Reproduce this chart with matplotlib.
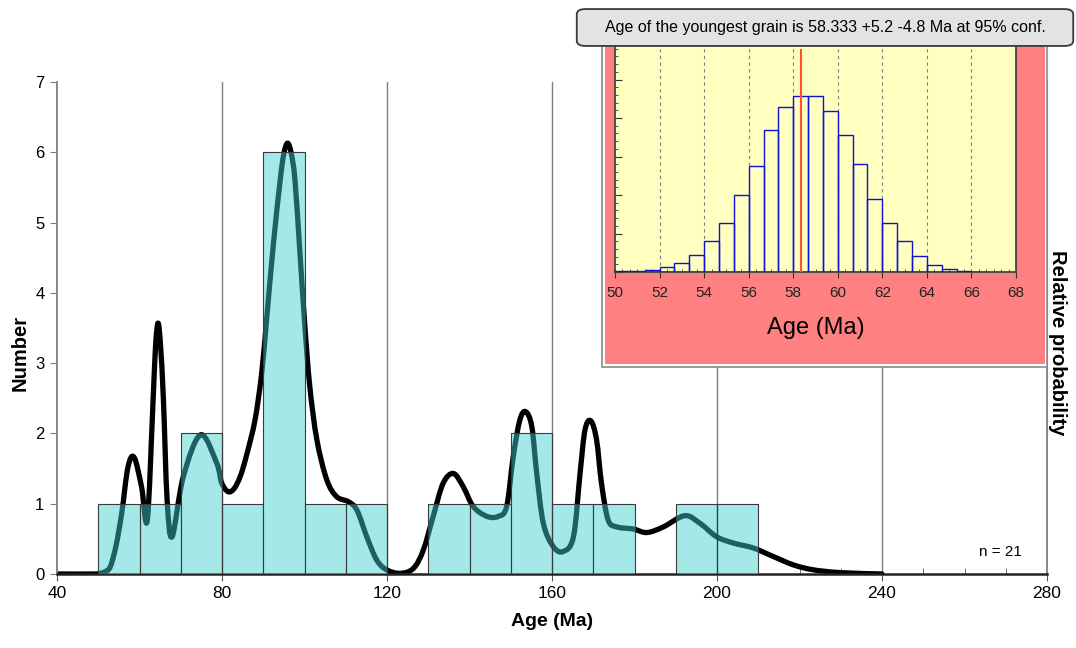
import numpy as np
import matplotlib
matplotlib.use("Agg")
import matplotlib.pyplot as plt
from matplotlib.patches import Rectangle, FancyBboxPatch, PathPatch
from matplotlib.path import Path

plt.rcParams['font.family'] = ['Liberation Sans', 'DejaVu Sans']

# ---------------- data ----------------
bin_left = [50, 60, 70, 80, 90, 100, 110, 120, 130, 140, 150, 160, 170, 180, 190, 200]
bin_counts = [1, 1, 2, 1, 6, 1, 1, 0, 1, 1, 2, 1, 1, 0, 1, 1]

curve_age = [40, 49, 50.5, 51.5, 52.9, 54.3, 55.7, 57.2, 58.7, 60.5, 61.9, 63.3, 63.9,
             64.5, 65.1, 65.8, 66.7, 67.9, 70.6, 74.8, 78.7, 79.9, 81.5, 83.0, 84.5,
             86.0, 88.0, 89.6, 90.8, 92.4, 94.1, 95.0, 95.9, 96.8, 97.7, 98.9, 100.1,
             101.3, 103.0, 105.4, 107.8, 110.6, 112.7, 115.1, 117.5, 119.9, 123.2,
             126.4, 128.8, 131.2, 133.6, 136.1, 138.5, 140.9, 144.2, 147.0, 149.0,
             150.6, 152.2, 153.6, 155.1, 156.3, 157.9, 160.3, 162.7, 165.2, 166.8,
             168.0, 169.4, 170.8, 172.0, 173.6, 175.7, 179.7, 183.0, 187.0, 192.2,
             195.9, 199.9, 204.0, 208.8, 213.6, 218.5, 223.3, 229.8, 240]
curve_prob = [0, 0, 0.01, 0.03, 0.10, 0.40, 0.87, 1.52, 1.66, 1.24, 0.77, 2.48, 3.25,
              3.57, 3.25, 2.48, 1.05, 0.53, 1.38, 1.98, 1.58, 1.30, 1.17, 1.22, 1.40,
              1.70, 2.19, 2.85, 3.61, 4.66, 5.60, 5.98, 6.13, 5.98, 5.60, 4.56, 3.52,
              2.66, 1.91, 1.34, 1.10, 1.03, 0.91, 0.53, 0.20, 0.06, 0.01,
              0.08, 0.34, 0.82, 1.29, 1.43, 1.24, 0.96, 0.82, 0.82, 0.96,
              1.67, 2.19, 2.31, 2.10, 1.43, 0.72, 0.39, 0.32, 0.53, 1.43,
              2.05, 2.18, 1.91, 1.29, 0.77, 0.67, 0.64, 0.59, 0.67, 0.83,
              0.72, 0.53, 0.44, 0.37, 0.25, 0.13, 0.06, 0.02, 0]

inset_start = 50
inset_width = 2 / 3
inset_counts = [3.5, 3.5, 6, 14, 24, 44, 81, 128, 200, 276, 370, 429, 457, 457, 417,
                355, 281, 190, 126, 81, 42, 18, 8, 3.5, 1]
youngest_age = 58.333
youngest_line_top = 577

x_ticks = [40, 80, 120, 160, 200, 240, 280]
y_ticks = [0, 1, 2, 3, 4, 5, 6, 7]
inset_ticks = [50, 52, 54, 56, 58, 60, 62, 64, 66, 68]

title_text = "Age of the youngest grain is 58.333 +5.2 -4.8 Ma at 95% conf."

# ---------------- figure ----------------
W, H = 1076, 648
fig = plt.figure(figsize=(W / 100, H / 100), dpi=100)


def fx(px):
    return px / W


def fy(py):
    return 1 - py / H


def smooth_path(xs, ys):
    """Catmull-Rom style cubic Bezier path through the read points."""
    p = np.column_stack([xs, ys]).astype(float)
    verts = [p[0]]
    codes = [Path.MOVETO]
    n = len(p)
    for i in range(n - 1):
        p0 = p[i - 1] if i > 0 else p[i]
        p1 = p[i]
        p2 = p[i + 1]
        p3 = p[i + 2] if i + 2 < n else p[i + 1]
        c1 = p1 + (p2 - p0) / 6.0
        c2 = p2 - (p3 - p1) / 6.0
        verts += [c1, c2, p2]
        codes += [Path.CURVE4] * 3
    return Path(verts, codes)


ax = fig.add_axes([fx(57), fy(574), fx(1047) - fx(57), fy(82) - fy(574)])
ax.set_xlim(40, 280)
ax.set_ylim(0, 7)

for gx in [80, 120, 160, 200, 240]:
    ax.axvline(gx, color='#7f7f7f', lw=1.0, zorder=0.5)

curve = PathPatch(smooth_path(curve_age, curve_prob), fill=False, edgecolor='black',
                  lw=3.8, capstyle='round', joinstyle='round', zorder=2)
ax.add_patch(curve)
ax.bar(bin_left, bin_counts, width=10, align='edge',
       facecolor=(0.245, 0.816, 0.816, 0.47), edgecolor='#3a3a3a', lw=0.8, zorder=3)

ax.set_xticks(x_ticks)
ax.set_yticks(y_ticks)
ax.set_xticks(np.arange(40, 281, 10), minor=True)
ax.tick_params(axis='x', which='major', direction='out', length=5, color='#555555',
               labelsize=12.5, pad=4)
ax.tick_params(axis='x', which='minor', direction='in', length=4, color='#555555')
ax.tick_params(axis='y', which='major', direction='out', length=5, color='#7f7f7f',
               labelsize=12, pad=4)
for lab in ax.get_xticklabels():
    lab.set_family(['Liberation Sans Narrow', 'Liberation Sans'])
ax.spines['top'].set_visible(False)
ax.spines['left'].set_color('#7f7f7f')
ax.spines['left'].set_linewidth(1.3)
ax.spines['right'].set_color('#7f7f7f')
ax.spines['right'].set_linewidth(1.3)
ax.spines['bottom'].set_color('#222222')
ax.spines['bottom'].set_linewidth(1.8)
ax.set_xlabel('Age (Ma)', fontsize=14, fontweight='bold', labelpad=8,
              family=['Liberation Sans Narrow', 'Liberation Sans'])
ax.set_ylabel('Number', fontsize=14.5, fontweight='bold')
ax.yaxis.set_label_coords(-0.028, 0.45)

fig.text(fx(1058), fy(343), 'Relative probability', rotation=270, fontsize=14.5,
         fontweight='bold', ha='center', va='center')

ax.text(527, 6.75, 'B', fontsize=19, fontweight='bold', ha='center', va='center')
ax.text(0.953, 0.045, 'n = 21', transform=ax.transAxes, fontsize=11,
        ha='center', va='center')

# ---------------- inset ----------------
frame = Rectangle((fx(602), fy(367)), fx(1047) - fx(602), fy(40) - fy(367),
                  transform=fig.transFigure, facecolor='white', edgecolor='#8a8a8a',
                  lw=1.2, zorder=5)
fig.patches.append(frame)
pink = Rectangle((fx(605), fy(364)), fx(1045) - fx(605), fy(40) - fy(364),
                 transform=fig.transFigure, facecolor='#ff8080', edgecolor='none',
                 zorder=6)
fig.patches.append(pink)

axi = fig.add_axes([fx(615), fy(272), fx(1016) - fx(615), fy(41) - fy(272)])
axi.set_zorder(10)
axi.set_facecolor('#ffffc0')
axi.set_xlim(50, 68)
axi.set_ylim(0, 600)
inset_left = [inset_start + i * inset_width for i in range(len(inset_counts))]
axi.bar(inset_left, inset_counts, width=inset_width, align='edge', fill=False,
        edgecolor='#1010dd', lw=1.0, zorder=3)
for gx in inset_ticks[1:-1]:
    axi.axvline(gx, color='#808080', lw=0.8, ls=(0, (3, 3)), zorder=1)
axi.plot([youngest_age, youngest_age], [0, youngest_line_top], color='#ff5030',
         lw=1.5, zorder=4)
axi.set_xticks(inset_ticks)
axi.set_xticks(np.arange(50, 68.01, 1 / 3), minor=True)
axi.set_yticks(np.arange(0, 601, 100))
axi.set_yticks(np.arange(0, 601, 20), minor=True)
axi.set_yticklabels([])
axi.tick_params(axis='x', which='major', direction='out', length=4, color='#333333',
                labelsize=11, labelcolor='#222222', pad=6)
axi.tick_params(axis='x', which='minor', direction='in', length=2.5, color='#333333')
axi.tick_params(axis='y', which='major', direction='in', length=5, color='#333333')
axi.tick_params(axis='y', which='minor', direction='in', length=2.5, color='#333333')
for s in axi.spines.values():
    s.set_color('#444444')
    s.set_linewidth(1.3)
axi.set_xlabel('Age (Ma)', fontsize=17, labelpad=12)

box = FancyBboxPatch((fx(580), fy(44)), fx(1070) - fx(580), fy(11) - fy(44),
                     boxstyle='round,pad=0.003,rounding_size=0.008',
                     transform=fig.transFigure, facecolor='#e3e3e3',
                     edgecolor='#3a3a3a', lw=1.3, zorder=20)
fig.patches.append(box)
fig.text(fx(825), fy(27.5), title_text, fontsize=11.5, ha='center', va='center',
         zorder=21)

fig.savefig('out.png', dpi=100)
